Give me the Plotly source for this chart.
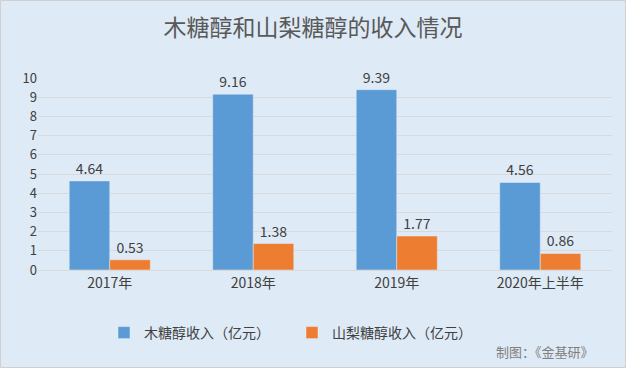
import plotly.graph_objects as go

categories = ["2017年", "2018年", "2019年", "2020年上半年"]
xylitol = [4.64, 9.16, 9.39, 4.56]
sorbitol = [0.53, 1.38, 1.77, 0.86]
name_xylitol = "木糖醇收入（亿元）"
name_sorbitol = "山梨糖醇收入（亿元）"

FONT = "Noto Sans CJK SC"

fig = go.Figure()
fig.add_bar(x=categories, y=xylitol, name=name_xylitol, marker_color="#5B9BD5",
            text=[f"{v:.2f}" for v in xylitol], textposition="outside",
            textfont=dict(size=14, color="#404040", family=FONT), cliponaxis=False)
fig.add_bar(x=categories, y=sorbitol, name=name_sorbitol, marker_color="#ED7D31",
            text=[f"{v:.2f}" for v in sorbitol], textposition="outside",
            textfont=dict(size=14, color="#404040", family=FONT), cliponaxis=False)

L, R, T, B = 38, 14, 78, 98
W, H = 626, 368
pw, ph = W - L - R, H - T - B

def px_x(p):
    return (p - L) / pw

def px_y(p):
    return (H - B - p) / ph

fig.update_layout(
    width=W, height=H,
    margin=dict(l=L, r=R, t=T, b=B),
    paper_bgcolor="#DEEAF6", plot_bgcolor="#DEEAF6",
    font=dict(family=FONT, color="#595959", size=13),
    barmode="group", bargap=0.435, bargroupgap=0,
    title=dict(text="木糖醇和山梨糖醇的收入情况", x=0.5, xanchor="center",
               y=1 - 28 / H, yanchor="middle",
               font=dict(size=23, color="#595959", family=FONT)),
    xaxis=dict(showgrid=False, showline=True, linecolor="#D9D9D9", ticks="",
               tickfont=dict(size=14, color="#404040")),
    yaxis=dict(range=[0, 10], dtick=1, showgrid=True, gridcolor="#D9D9D9",
               zeroline=False, ticks="", tickfont=dict(size=13, color="#404040")),
    legend=dict(orientation="h", x=px_x(104), xanchor="left", y=px_y(333), yanchor="middle",
                font=dict(size=14, color="#404040"), bgcolor="rgba(0,0,0,0)",
                itemwidth=30, entrywidth=143, traceorder="normal"),
    showlegend=True,
)

fig.add_annotation(text="制图：《金基研》", xref="paper", yref="paper",
                   x=px_x(545), y=px_y(351), xanchor="center", yanchor="middle",
                   showarrow=False, font=dict(size=13, color="#7F7F7F", family=FONT))

fig.add_shape(type="rect", xref="paper", yref="paper",
              x0=px_x(0.5), x1=px_x(W - 0.5), y0=px_y(H - 0.5), y1=px_y(0.5),
              line=dict(color="#D0D0D0", width=1), layer="above")

fig.write_html("out.html", config={"displayModeBar": False},
               post_script="document.body.style.margin='0';document.body.style.overflow='hidden';")
